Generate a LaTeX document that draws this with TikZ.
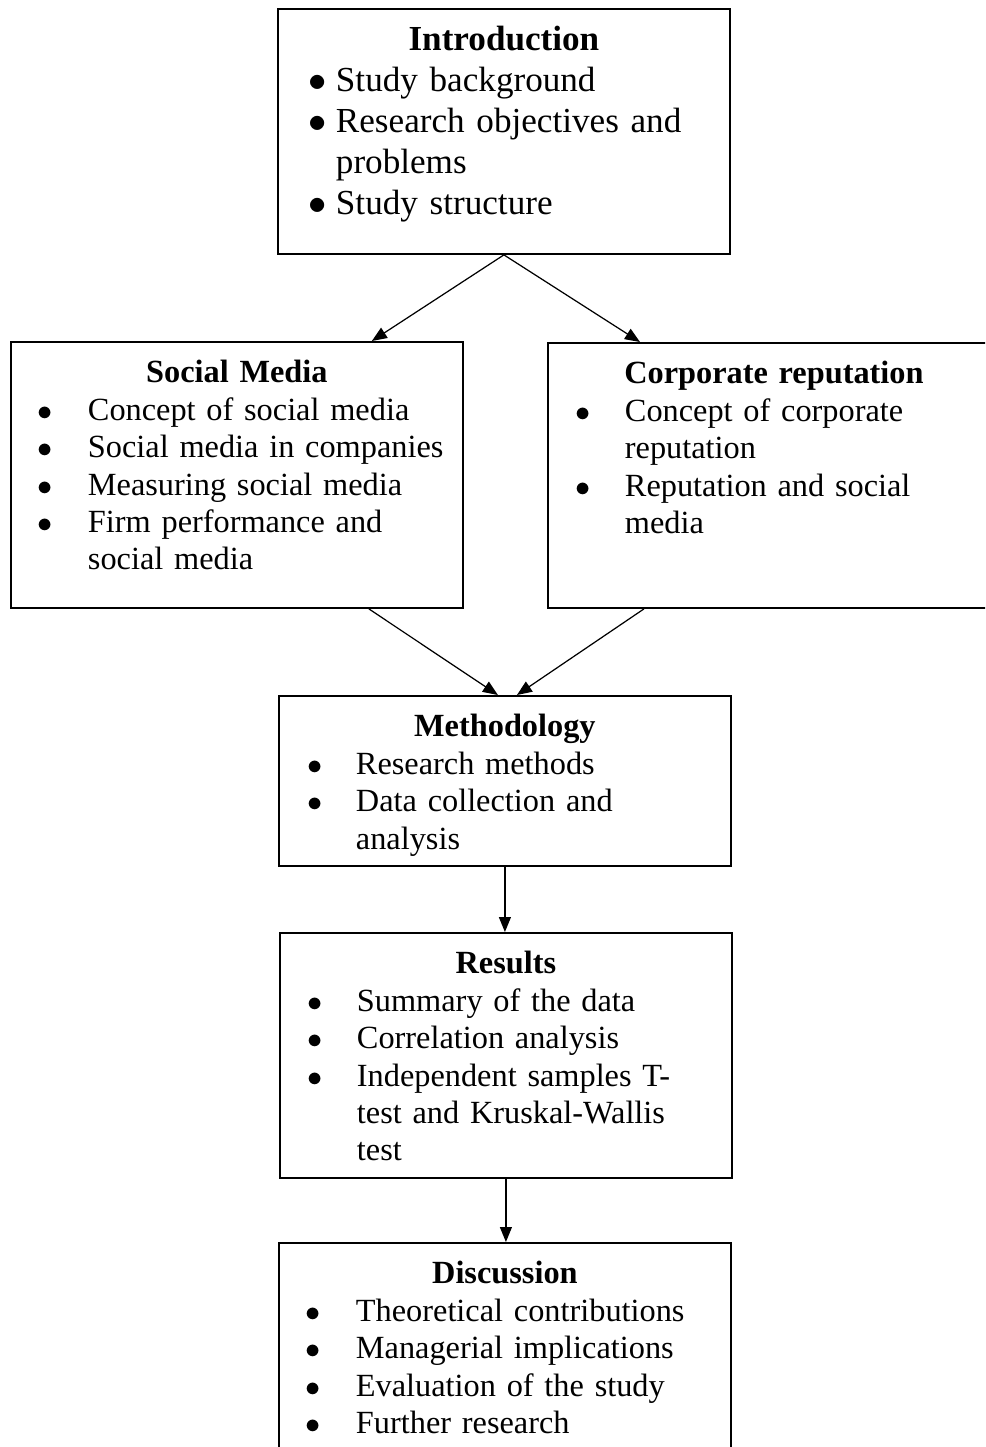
\documentclass[tikz,border=0pt]{standalone}
\usepackage{fontspec}
\setmainfont{Liberation Serif}
\usetikzlibrary{positioning,arrows.meta}

\begin{document}
\begin{tikzpicture}[x=0.02cm, y=-0.02cm,
  box/.style={rectangle, draw, line width=1.1pt, minimum width=9.04cm, anchor=north west, inner sep=0pt},
  txt/.style={anchor=north, text width=9.04cm, inner sep=0pt, font=\fontsize{18.4}{21.3}\selectfont},
  bigtxt/.style={txt, font=\fontsize{20}{23.3}\selectfont},
  arrow/.style={-{Triangle[length=0.3cm, width=0.24cm]}, line width=0.7pt},
]
\useasboundingbox (0,0) rectangle (985,1447);
\clip (0,0) rectangle (985,1447);

% === Introduction ===
\node[box, minimum height=4.9cm] (intro) at (277,8) {};
\node[bigtxt] (intro-t) at ([yshift=-0.36cm]intro.north) {{\centering\textbf{Introduction}\par}
  \begin{tabular}[t]{@{\hspace{0.62cm}}p{0.54cm}@{}l@{}}
  $\bullet$ & Study background\\
  $\bullet$ & Research objectives and\\
  & problems\\
  $\bullet$ & Study structure
  \end{tabular}};

% === Social Media / Corporate reputation ===
\node[box, minimum height=5.32cm] (sm) at (10,341) {};
\node[txt] (sm-t) at ([yshift=-0.38cm]sm.north) {{\centering\textbf{Social Media}\par}
  \begin{tabular}[t]{@{\hspace{0.54cm}}p{1.0cm}@{}l@{}}
  $\bullet$ & Concept of social media\\
  $\bullet$ & Social media in companies\\
  $\bullet$ & Measuring social media\\
  $\bullet$ & Firm performance and\\
  & social media
  \end{tabular}};

\node[box, minimum height=5.3cm] (cr) at (547,342) {};
\node[txt] (cr-t) at ([yshift=-0.38cm]cr.north) {{\centering\textbf{Corporate reputation}\par}
  \begin{tabular}[t]{@{\hspace{0.56cm}}p{0.98cm}@{}l@{}}
  $\bullet$ & Concept of corporate\\
  & reputation\\
  $\bullet$ & Reputation and social\\
  & media
  \end{tabular}};

\draw[arrow] (intro.south) -- ([xshift=-1.84cm]sm.north east);
\draw[arrow] (intro.south) -- ([xshift=1.86cm]cr.north west);

% === Methodology ===
\node[box, minimum height=3.4cm] (meth) at (278,695) {};
\node[txt] (meth-t) at ([yshift=-0.38cm]meth.north) {{\centering\textbf{Methodology}\par}
  \begin{tabular}[t]{@{\hspace{0.58cm}}p{0.96cm}@{}l@{}}
  $\bullet$ & Research methods\\
  $\bullet$ & Data collection and\\
  & analysis
  \end{tabular}};

\draw[arrow] ([xshift=-1.9cm]sm.south east) -- ([xshift=-0.14cm]meth.north);
\draw[arrow] ([xshift=1.94cm]cr.south west) -- ([xshift=0.24cm]meth.north);

% === Results ===
\node[box, minimum height=4.9cm] (res) at (279,932) {};
\node[txt] (res-t) at ([yshift=-0.38cm]res.north) {{\centering\textbf{Results}\par}
  \begin{tabular}[t]{@{\hspace{0.56cm}}p{0.98cm}@{}l@{}}
  $\bullet$ & Summary of the data\\
  $\bullet$ & Correlation analysis\\
  $\bullet$ & Independent samples T-\\
  & test and Kruskal-Wallis\\
  & test
  \end{tabular}};

\draw[arrow] (meth.south) -- (meth.south |- res.north);

% === Discussion ===
\node[box, minimum height=5cm] (disc) at (278,1242) {};
\node[txt] (disc-t) at ([yshift=-0.38cm]disc.north) {{\centering\textbf{Discussion}\par}
  \begin{tabular}[t]{@{\hspace{0.54cm}}p{1.0cm}@{}l@{}}
  $\bullet$ & Theoretical contributions\\
  $\bullet$ & Managerial implications\\
  $\bullet$ & Evaluation of the study\\
  $\bullet$ & Further research
  \end{tabular}};

\draw[arrow] (res.south) -- (res.south |- disc.north);

\end{tikzpicture}
\end{document}
